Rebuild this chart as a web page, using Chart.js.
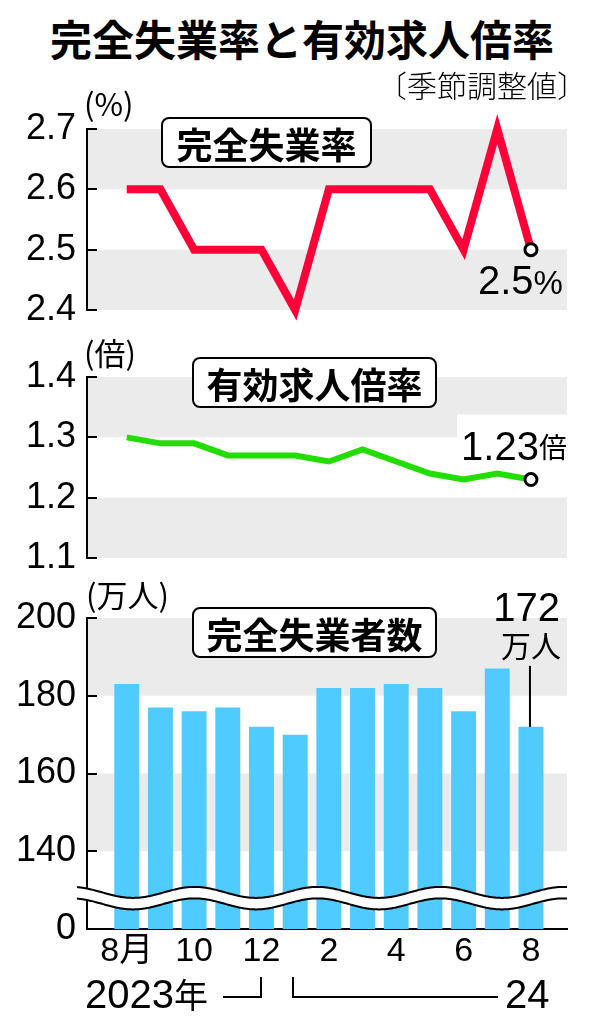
<!DOCTYPE html>
<html>
<head>
<meta charset="utf-8">
<title>完全失業率と有効求人倍率</title>
<script src="https://cdn.jsdelivr.net/npm/chart.js"></script>
<style>
    body { margin: 0; background: #fff; }
    #wrap {
        position: relative;
        width: 604px;
        height: 1024px;
        overflow: hidden;
        font-family: 'Noto Sans CJK JP', sans-serif;
        color: #000;
    }
    canvas { position: absolute; left: 0; }
    .t { position: absolute; white-space: nowrap; line-height: 1; z-index: 2; }
    .title { left: 0; width: 604px; text-align: center; top: 17px; font-size: 42px; font-weight: 700; }
    .sub { left: 377px; top: 69px; font-size: 30px; font-weight: 300; }
    .unit { font-size: 31px; }
    .box {
        position: absolute; z-index: 2;
        border: 2px solid #000; border-radius: 8px; background: #fff;
        box-sizing: border-box;
        font-size: 36px; font-weight: 700; line-height: 1;
        display: flex; align-items: center; justify-content: center;
    }
    .year { font-family: 'Liberation Sans', 'Noto Sans CJK JP', sans-serif; font-size: 40px; }
    .brk { position: absolute; border: 0 solid #000; box-sizing: border-box; }
</style>
</head>
<body>
<div id="wrap">
    <div class="t title">完全失業率と有効求人倍率</div>
    <div class="t sub">〔季節調整値〕</div>

    <canvas id="c1" width="604" height="230" style="top:100px"></canvas>
    <canvas id="c2" width="604" height="250" style="top:330px"></canvas>
    <canvas id="c3" width="604" height="444" style="top:580px"></canvas>

    <div class="t unit" style="left:84px;top:87px">(%)</div>
    <div class="t unit" style="left:84px;top:336px">(倍)</div>
    <div class="t unit" style="left:86px;top:578px">(万人)</div>

    <div class="box" style="left:161px;top:117px;width:211px;height:51px">完全失業率</div>
    <div class="box" style="left:192px;top:357px;width:245px;height:51px">有効求人倍率</div>
    <div class="box" style="left:192px;top:607px;width:245px;height:51px">完全失業者数</div>

    <div class="t year" style="left:85px;top:974px">2023<span style="font-family:'Noto Sans CJK JP';font-size:34px">年</span></div>
    <div class="brk" style="left:223px;top:977px;width:39px;height:21px;border-right-width:2px;border-bottom-width:2px"></div>
    <div class="brk" style="left:292px;top:977px;width:206px;height:21px;border-left-width:2px;border-bottom-width:2px"></div>
    <div class="t year" style="left:505px;top:974px">24</div>
</div>
<script>
    // 2023年8月〜2024年8月（季節調整値）
    const months = ['2023-08', '2023-09', '2023-10', '2023-11', '2023-12', '2024-01', '2024-02',
                    '2024-03', '2024-04', '2024-05', '2024-06', '2024-07', '2024-08'];
    const monthLabels = ['8月', '', '10', '', '12', '', '2', '', '4', '', '6', '', '8'];

    const unemploymentRate = [2.6, 2.6, 2.5, 2.5, 2.5, 2.4, 2.6, 2.6, 2.6, 2.6, 2.5, 2.7, 2.5];
    const jobsRatio = [1.30, 1.29, 1.29, 1.27, 1.27, 1.27, 1.26, 1.28, 1.26, 1.24, 1.23, 1.24, 1.23];
    const unemployed = [183, 177, 176, 177, 172, 170, 182, 182, 183, 182, 176, 187, 172]; // 万人

    const rateTicks = [2.4, 2.5, 2.6, 2.7];
    const ratioTicks = [1.1, 1.2, 1.3, 1.4];
    const unemployedTicks = [120, 140, 160, 180, 200]; // 120 is shown as "0" (broken axis)

    const last = months.length - 1;
    const xMin = -1.18, xMax = 13.07;
    const numFont = "'Liberation Sans', 'Noto Sans CJK JP', sans-serif";
    const cjkFont = "'Noto Sans CJK JP', sans-serif";

    // grey bands + inward tick marks
    const bands = {
        id: 'bands',
        beforeDraw(chart, args, opts) {
            const { ctx, chartArea: a, scales: { y } } = chart;
            ctx.save();
            ctx.fillStyle = '#ebebeb';
            opts.ranges.forEach(([lo, hi]) => {
                const top = y.getPixelForValue(hi), bot = y.getPixelForValue(lo);
                ctx.fillRect(a.left, top, a.right - a.left, bot - top);
            });
            ctx.restore();
        },
        afterDraw(chart) {
            const { ctx, chartArea: a, scales: { y } } = chart;
            ctx.save();
            ctx.strokeStyle = '#000';
            ctx.lineWidth = 2;
            y.ticks.forEach(t => {
                const py = Math.round(y.getPixelForValue(t.value));
                ctx.beginPath();
                ctx.moveTo(a.left, py);
                ctx.lineTo(a.left + 10, py);
                ctx.stroke();
            });
            ctx.restore();
        }
    };

    function yAxis(ticks, fmt) {
        return {
            min: ticks[0],
            max: ticks[ticks.length - 1],
            afterBuildTicks: s => { s.ticks = ticks.map(v => ({ value: v })); },
            afterFit: s => {
                s.width = 87;
                // let layout.padding alone decide the plot height
                s.paddingTop = 0;
                s.paddingBottom = 0;
            },
            ticks: {
                callback: fmt, autoSkip: false, color: '#000', padding: 11,
                font: { family: numFont, size: 36 }
            },
            grid: { display: false, drawTicks: false },
            border: { display: true, color: '#000', width: 2 }
        };
    }

    function xAxis(show) {
        return {
            type: 'linear',
            display: show,
            min: xMin,
            max: xMax,
            offset: false,
            afterBuildTicks: s => {
                s.ticks = monthLabels.map((l, i) => l ? { value: i } : null).filter(Boolean);
            },
            afterFit: s => { if (show) s.height = 50; },
            ticks: {
                callback: v => monthLabels[v],
                autoSkip: false, maxRotation: 0, color: '#000', padding: 2,
                font: { family: numFont, size: 34 }
            },
            grid: { display: false, drawTicks: false, offset: false },
            border: { display: true, color: '#000', width: 2 }
        };
    }

    const common = {
        responsive: false,
        animation: false,
        events: [],
        plugins: { legend: { display: false }, tooltip: { enabled: false } }
    };

    // panel 1: 完全失業率
    new Chart(document.getElementById('c1'), {
        type: 'line',
        data: {
            datasets: [{
                data: unemploymentRate.map((v, i) => ({ x: i, y: v })),
                borderColor: '#ff0038',
                borderWidth: 8,
                borderJoinStyle: 'miter',
                borderCapStyle: 'butt',
                tension: 0,
                clip: false,
                pointRadius: unemploymentRate.map((v, i) => i === last ? 6 : 0),
                pointBorderWidth: 3,
                pointBorderColor: '#000',
                pointBackgroundColor: '#fff'
            }]
        },
        options: {
            ...common,
            layout: { padding: { top: 29, bottom: 20, left: 0, right: 37 } },
            scales: { x: xAxis(false), y: yAxis(rateTicks, v => v.toFixed(1)) },
            plugins: { ...common.plugins, bands: { ranges: [[2.6, 2.7], [2.4, 2.5]] } }
        },
        plugins: [bands, {
            id: 'rateLabel',
            afterDatasetsDraw(chart) {
                const { ctx } = chart;
                const p = chart.getDatasetMeta(0).data[last];
                ctx.save();
                ctx.fillStyle = '#000';
                ctx.textAlign = 'right';
                ctx.textBaseline = 'alphabetic';
                ctx.font = `33px ${numFont}`;
                const right = p.x + 32, base = p.y + 44;
                ctx.fillText('%', right, base);
                const w = ctx.measureText('%').width;
                ctx.font = `40px ${numFont}`;
                ctx.fillText(unemploymentRate[last].toFixed(1), right - w, base);
                ctx.restore();
            }
        }]
    });

    // panel 2: 有効求人倍率
    new Chart(document.getElementById('c2'), {
        type: 'line',
        data: {
            datasets: [{
                data: jobsRatio.map((v, i) => ({ x: i, y: v })),
                borderColor: '#22dd00',
                borderWidth: 6,
                borderJoinStyle: 'miter',
                borderCapStyle: 'butt',
                tension: 0,
                clip: false,
                pointRadius: jobsRatio.map((v, i) => i === last ? 6 : 0),
                pointBorderWidth: 3,
                pointBorderColor: '#000',
                pointBackgroundColor: '#fff'
            }]
        },
        options: {
            ...common,
            layout: { padding: { top: 47, bottom: 22, left: 0, right: 37 } },
            scales: { x: xAxis(false), y: yAxis(ratioTicks, v => v.toFixed(1)) },
            plugins: { ...common.plugins, bands: { ranges: [[1.3, 1.4], [1.1, 1.2]] } }
        },
        plugins: [bands, {
            id: 'ratioLabel',
            beforeDatasetsDraw(chart) {
                // white patch behind the label
                const { ctx, chartArea: a } = chart;
                const p = chart.getDatasetMeta(0).data[last];
                ctx.save();
                ctx.fillStyle = '#fff';
                ctx.fillRect(p.x - 74, p.y - 65, a.right - (p.x - 74), 45);
                ctx.restore();
            },
            afterDatasetsDraw(chart) {
                const { ctx } = chart;
                const p = chart.getDatasetMeta(0).data[last];
                ctx.save();
                ctx.fillStyle = '#000';
                ctx.textAlign = 'right';
                ctx.textBaseline = 'alphabetic';
                const right = p.x + 36, base = p.y - 20;
                ctx.font = `28px ${cjkFont}`;
                ctx.fillText('倍', right, base - 2);
                const w = ctx.measureText('倍').width;
                ctx.font = `40px ${numFont}`;
                ctx.fillText(jobsRatio[last].toFixed(2), right - w, base);
                ctx.restore();
            }
        }]
    });

    // panel 3: 完全失業者数 (axis broken between 0 and 140)
    new Chart(document.getElementById('c3'), {
        type: 'bar',
        data: {
            datasets: [{
                data: unemployed.map((v, i) => ({ x: i, y: v })),
                backgroundColor: '#4fcbff',
                categoryPercentage: 1,
                barPercentage: 0.74,
                borderWidth: 0
            }]
        },
        options: {
            ...common,
            layout: { padding: { top: 38, bottom: 45, left: 0, right: 37 } },
            scales: { x: xAxis(true), y: yAxis(unemployedTicks, v => v === 120 ? '0' : v) },
            plugins: { ...common.plugins, bands: { ranges: [[180, 200], [140, 160]] } }
        },
        plugins: [bands, {
            id: 'breakAndLabel',
            afterDatasetsDraw(chart) {
                const { ctx, chartArea: a, scales: { y } } = chart;
                // wavy break marks
                const mid = y.getPixelForValue(128);
                const up = mid - 5.5, lo = mid + 6, amp = 5.5, period = 123, phase = 133;
                const x0 = a.left - 10, x1 = a.right;
                const wave = (c, x) => c + amp * Math.cos(2 * Math.PI * (x - phase) / period);
                ctx.save();
                ctx.beginPath();
                for (let x = x0; x <= x1; x++) ctx.lineTo(x, wave(up, x));
                for (let x = x1; x >= x0; x--) ctx.lineTo(x, wave(lo, x));
                ctx.closePath();
                ctx.fillStyle = '#fff';
                ctx.fill();
                ctx.strokeStyle = '#000';
                ctx.lineWidth = 2;
                [up, lo].forEach(c => {
                    ctx.beginPath();
                    for (let x = x0; x <= x1; x++) ctx.lineTo(x, wave(c, x));
                    ctx.stroke();
                });

                // value label for the latest month
                const b = chart.getDatasetMeta(0).data[last];
                ctx.beginPath();
                ctx.moveTo(b.x - 1, b.y - 61);
                ctx.lineTo(b.x - 1, b.y);
                ctx.stroke();
                ctx.fillStyle = '#000';
                ctx.textAlign = 'right';
                ctx.textBaseline = 'alphabetic';
                ctx.font = `40px ${numFont}`;
                ctx.fillText(String(unemployed[last]), b.x + 29, b.y - 106);
                ctx.font = `30px ${cjkFont}`;
                ctx.fillText('万人', b.x + 30, b.y - 70);
                ctx.restore();
            }
        }]
    });
</script>
</body>
</html>
